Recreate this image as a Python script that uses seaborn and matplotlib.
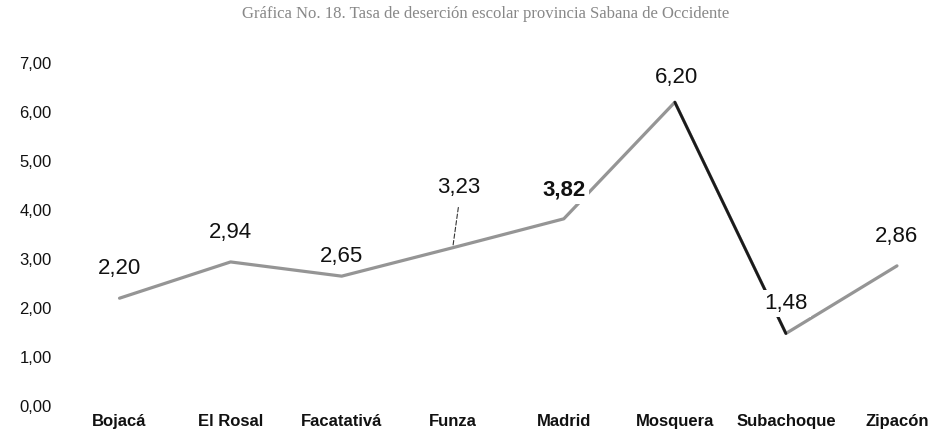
import matplotlib
matplotlib.use("Agg")
import matplotlib.pyplot as plt
import seaborn as sns
import pandas as pd
from matplotlib.ticker import FuncFormatter

municipios = ["Bojacá", "El Rosal", "Facatativá", "Funza", "Madrid",
              "Mosquera", "Subachoque", "Zipacón"]
tasa = [2.20, 2.94, 2.65, 3.23, 3.82, 6.20, 1.48, 2.86]
yticks = [0, 1, 2, 3, 4, 5, 6, 7]
titulo = "Gráfica No. 18. Tasa de deserción escolar provincia Sabana de Occidente"

df = pd.DataFrame({"municipio": municipios, "tasa": tasa})

sns.set_theme(style="white")
plt.rcParams["font.family"] = ["Liberation Sans", "DejaVu Sans"]

fig = plt.figure(figsize=(9.3, 4.3), dpi=100)
ax = fig.add_axes([64 / 930, 1 - 406 / 430, (930 - 64) / 930, (406 - 63) / 430])

sns.lineplot(data=df, x="municipio", y="tasa", ax=ax, color="#959595",
             linewidth=2.3, sort=False, zorder=2)
# darker stretch between Mosquera and Subachoque
sns.lineplot(data=df.iloc[5:7], x="municipio", y="tasa", ax=ax, color="#1a1a1a",
             linewidth=2.0, sort=False, zorder=3)

ax.set_xlim(-0.5, (930 - 120) / 111)
ax.set_ylim(0, 7)
ax.set_yticks(yticks)
ax.yaxis.set_major_formatter(FuncFormatter(lambda v, p: f"{v:.2f}".replace(".", ",")))
ax.set_xlabel("")
ax.set_ylabel("")
for s in ax.spines.values():
    s.set_visible(False)
ax.tick_params(axis="y", length=0, pad=9, labelsize=12, labelcolor="#111111")
ax.tick_params(axis="x", length=0, pad=6, labelsize=12, labelcolor="#111111")
for lbl in ax.get_xticklabels():
    lbl.set_fontweight("bold")

# data labels: pixel offsets above each point; some carry a white box over the line
offsets = [(0, 30), (0, 29), (0, 20), (6, 60), (0, 29), (2, 25), (0, 30), (0, 29)]
boxed = [False, False, False, False, True, False, True, False]
for i, (v, off) in enumerate(zip(tasa, offsets)):
    weight = "bold" if municipios[i] == "Madrid" else "normal"
    box = dict(boxstyle="square,pad=0.15", fc="white", ec="none") if boxed[i] else None
    ax.annotate(f"{v:.2f}".replace(".", ","), xy=(i, v), xytext=off,
                textcoords="offset pixels", ha="center", va="center",
                fontsize=16, fontweight=weight, color="#111111", zorder=5,
                bbox=box)

# leader line for the Funza label
ax.annotate("", xy=(3, tasa[3]), xytext=(3 + 6 / 111, tasa[3] + 43 / 49),
            arrowprops=dict(arrowstyle="-", color="#333333", lw=0.8,
                            linestyle=(0, (4, 2))), zorder=4)

fig.text(0.522, 0.968, titulo, ha="center", va="center", fontsize=12,
         color="#888888", family=["Liberation Serif", "DejaVu Serif"])

fig.savefig("out.png", dpi=100)
